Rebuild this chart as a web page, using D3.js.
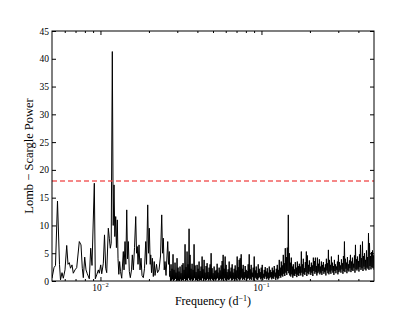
<!DOCTYPE html>
<html>
<head>
<meta charset="utf-8">
<script src="https://cdn.jsdelivr.net/npm/d3@7"></script>
<style>
  body { margin: 0; background: #fff; }
  text { font-family: "Liberation Serif", "DejaVu Serif", serif; fill: #000; }
</style>
</head>
<body>
<svg width="415" height="312"></svg>
<script>
// low-frequency part of the periodogram, read peak by peak: [frequency (1/d), power]
var lowFreq = [0.005, 0.005145, 0.005256, 0.005409, 0.005566, 0.005646, 0.005769, 0.005877, 0.006022, 0.006171,
    0.006286, 0.006404, 0.006515, 0.006656, 0.00678, 0.006948, 0.00712, 0.007389, 0.007571, 0.007713,
    0.007825, 0.007983, 0.008132, 0.008285, 0.008525, 0.008698, 0.008861, 0.009158, 0.00929, 0.009478,
    0.009697, 0.009836, 0.010036, 0.010181, 0.010416, 0.010596, 0.01078, 0.010935, 0.011188, 0.01135,
    0.011513, 0.011662, 0.011847, 0.012, 0.012139, 0.012279, 0.012437, 0.012563, 0.012726, 0.012854,
    0.013003, 0.013152, 0.013322, 0.013552, 0.013865, 0.014006, 0.014207, 0.014371, 0.01456, 0.014725,
    0.014894, 0.015109, 0.015327, 0.015593, 0.015772, 0.015998, 0.016275, 0.016557, 0.016747, 0.016941,
    0.017111, 0.017356, 0.017608, 0.017861, 0.018119, 0.018458, 0.018779, 0.019104, 0.019323, 0.019658,
    0.019884, 0.020113, 0.020374, 0.020522, 0.020756, 0.020995, 0.021297, 0.021574, 0.02182, 0.022295,
    0.022616, 0.023107, 0.023608, 0.024017, 0.024296, 0.024575, 0.024892, 0.025177, 0.02554, 0.026169,
    0.026472, 0.02678, 0.026896];
var lowPower = [0.5, 2.4, 2.8, 14.4, 3.0, 0.2, 1.5, 0.5, 2.0, 6.4,
    3.0, 3.3, 2.3, 2.9, 1.4, 2.0, 2.4, 7.1, 6.5, 2.3,
    0.6, 4.3, 2.0, 1.3, 0.4, 5.9, 2.8, 17.6, 0.4, 1.1,
    2.0, 1.4, 2.9, 1.3, 3.2, 8.3, 2.3, 1.5, 9.5, 7.7,
    5.9, 6.8, 41.3, 10.0, 17.3, 8.0, 11.6, 6.0, 11.0, 4.0,
    1.2, 3.5, 1.7, 0.5, 5.3, 2.0, 7.1, 3.0, 12.8, 4.0,
    7.1, 1.7, 0.6, 2.0, 4.7, 2.0, 6.0, 11.6, 5.0, 6.2,
    3.0, 6.5, 2.0, 4.1, 1.0, 0.6, 2.3, 7.1, 3.0, 13.7,
    5.0, 9.5, 3.0, 4.7, 1.5, 4.1, 0.8, 3.5, 1.0, 3.0,
    1.5, 2.0, 4.5, 11.9, 5.0, 7.7, 2.0, 3.5, 1.0, 7.1,
    3.0, 5.3, 0.8];

// high-frequency part: dense noise band, one local max and one local min per step,
// on an even log grid between denseFrom and denseTo
var denseFrom = 0.02704, denseTo = 0.5;
var densePeaks = [1.8, 3.0, 2.2, 4.8, 2.0, 3.3, 1.5, 4.1, 2.4, 1.7,
    2.6, 1.4, 2.9, 3.2, 2.0, 6.6, 2.5, 5.3, 3.0, 9.4,
    4.7, 2.2, 3.1, 2.0, 6.6, 2.8, 1.6, 2.9, 2.2, 3.5,
    1.8, 2.6, 4.4, 2.1, 3.8, 1.5, 2.7, 3.2, 1.6, 2.4,
    3.0, 5.0, 2.3, 1.4, 2.6, 1.8, 2.0, 3.1, 1.5, 2.4,
    1.9, 2.8, 3.6, 4.7, 2.2, 4.4, 2.9, 1.6, 2.1, 3.5,
    1.7, 2.4, 3.0, 1.5, 2.2, 2.8, 1.9, 4.4, 2.5, 3.8,
    4.1, 4.8, 2.2, 2.9, 1.6, 2.7, 2.0, 1.8, 3.0, 4.8,
    2.1, 2.9, 1.5, 2.4, 4.4, 1.9, 2.6, 1.4, 3.0, 2.2,
    1.6, 2.4, 2.9, 1.3, 2.0, 2.5, 1.7, 2.3, 1.5, 2.6,
    2.0, 1.6, 2.4, 1.9, 2.7, 1.5, 2.2, 2.9, 2.0, 3.8,
    2.4, 3.5, 2.8, 4.7, 3.2, 5.9, 4.3, 6.0, 11.9, 5.0,
    3.3, 4.2, 2.6, 3.0, 2.1, 3.4, 2.4, 3.5, 2.7, 3.1,
    2.6, 5.3, 3.0, 4.0, 2.3, 3.4, 5.3, 4.6, 2.9, 3.7,
    2.5, 3.3, 2.8, 4.2, 3.6, 4.2, 2.7, 4.2, 3.1, 3.9,
    2.6, 3.5, 2.9, 3.4, 2.4, 3.0, 4.0, 3.2, 5.6, 3.8,
    2.9, 4.4, 3.3, 2.7, 3.8, 3.0, 2.6, 3.5, 4.7, 3.4,
    2.8, 3.9, 3.2, 4.5, 7.1, 4.0, 3.3, 4.3, 3.0, 3.7,
    4.7, 3.5, 4.2, 3.1, 4.6, 6.5, 3.9, 4.4, 3.6, 4.8,
    6.5, 4.1, 7.1, 4.5, 5.0, 3.8, 5.5, 4.3, 8.6, 6.8,
    4.5, 5.2, 5.5, 4.6];
var denseTroughs = [0.0, 0.1, 0.3, 0.0, 0.2, 0.4, 0.0, 0.2, 0.1, 0.0,
    0.3, 0.0, 0.2, 0.1, 0.4, 0.0, 0.2, 0.1, 0.5, 0.2,
    0.1, 0.3, 0.0, 0.2, 0.5, 0.1, 0.2, 0.0, 0.4, 0.1,
    0.2, 0.1, 0.5, 0.0, 0.3, 0.1, 0.2, 0.4, 0.1, 0.3,
    0.1, 0.4, 0.2, 0.0, 0.3, 0.1, 0.3, 0.5, 0.1, 0.2,
    0.4, 0.1, 0.3, 0.0, 0.5, 0.2, 0.1, 0.3, 0.2, 0.3,
    0.5, 0.1, 0.2, 0.4, 0.0, 0.3, 0.2, 0.5, 0.3, 0.1,
    0.3, 0.6, 0.2, 0.4, 0.2, 0.6, 0.1, 0.4, 0.5, 0.2,
    0.4, 0.2, 0.7, 0.1, 0.4, 0.6, 0.3, 0.2, 0.5, 0.7,
    0.3, 0.5, 0.2, 0.6, 0.4, 0.8, 0.3, 0.5, 0.2, 0.5,
    0.7, 0.3, 0.5, 0.4, 0.8, 0.2, 0.6, 0.3, 0.5, 0.9,
    0.6, 1.0, 0.8, 1.3, 0.9, 1.5, 1.1, 1.8, 1.4, 1.0,
    0.8, 1.2, 0.6, 1.0, 0.9, 1.3, 0.7, 1.1, 0.9, 1.4,
    1.0, 1.5, 0.8, 1.3, 1.1, 1.6, 0.9, 1.4, 1.2, 1.7,
    1.1, 1.5, 0.9, 1.8, 1.3, 1.6, 1.0, 1.4, 1.7, 1.2,
    1.5, 1.1, 1.8, 1.3, 1.6, 1.0, 1.9, 1.4, 1.2, 1.7,
    1.3, 1.9, 1.5, 1.1, 1.8, 1.4, 2.0, 1.2, 1.6, 1.9,
    1.5, 2.1, 1.3, 1.8, 1.6, 2.2, 1.4, 1.9, 1.7, 2.3,
    1.6, 2.0, 1.8, 2.4, 1.5, 2.1, 1.9, 2.2, 1.7, 2.5,
    2.0, 2.3, 1.8, 2.6, 2.1, 1.9, 2.4, 2.2, 2.0, 2.7,
    2.1, 2.5, 2.3, 2.0];

var threshold = 18;
var yTicks = [0, 5, 10, 15, 20, 25, 30, 35, 40, 45];
var xMajor = [0.01, 0.1];
var xMajorExp = ["\u22122", "\u22121"];
var xMinor = [0.006, 0.007, 0.008, 0.009, 0.02, 0.03, 0.04, 0.05, 0.06, 0.07, 0.08, 0.09, 0.2, 0.3, 0.4];

var svg = d3.select("svg"),
    margin = {top: 31, right: 41, bottom: 31, left: 52},
    width = +svg.attr("width") - margin.left - margin.right,
    height = +svg.attr("height") - margin.top - margin.bottom,
    g = svg.append("g").attr("transform", "translate(" + margin.left + "," + margin.top + ")");

var x = d3.scaleLog().domain([0.005, 0.5]).range([0, width]);
var y = d3.scaleLinear().domain([0, 45]).range([height, 0]);

// build the series
var data = lowFreq.map(function(f, i) { return {f: f, p: lowPower[i]}; });
var n = densePeaks.length * 2;
densePeaks.forEach(function(p, i) {
    var j = 2 * i;
    data.push({f: denseFrom * Math.pow(denseTo / denseFrom, j / (n - 1)), p: p});
    data.push({f: denseFrom * Math.pow(denseTo / denseFrom, (j + 1) / (n - 1)), p: denseTroughs[i]});
});

var line = d3.line()
    .x(function(d) { return x(d.f); })
    .y(function(d) { return y(d.p); });

g.append("clipPath").attr("id", "clip")
  .append("rect").attr("width", width).attr("height", height);

g.append("path")
    .datum(data)
    .attr("clip-path", "url(#clip)")
    .attr("fill", "none")
    .attr("stroke", "#000")
    .attr("stroke-width", 1)
    .attr("stroke-linejoin", "miter")
    .attr("d", line);

// significance level
g.append("line")
    .attr("x1", 0).attr("x2", width)
    .attr("y1", y(threshold)).attr("y2", y(threshold))
    .attr("stroke", "#ee4444")
    .attr("stroke-opacity", 0.85)
    .attr("stroke-width", 1.3)
    .attr("stroke-dasharray", "5,3");

// inward ticks on all four sides
function noText(sel) { sel.select(".domain").remove(); sel.selectAll("text").remove(); sel.selectAll("line").attr("stroke", "#000"); }

g.append("g").attr("transform", "translate(0," + height + ")")
    .call(d3.axisBottom(x).tickValues(xMajor).tickSize(-4)).call(noText);
g.append("g").attr("transform", "translate(0," + height + ")")
    .call(d3.axisBottom(x).tickValues(xMinor).tickSize(-2)).call(noText);
g.append("g")
    .call(d3.axisTop(x).tickValues(xMajor).tickSize(-4)).call(noText);
g.append("g")
    .call(d3.axisTop(x).tickValues(xMinor).tickSize(-2)).call(noText);
g.append("g").attr("transform", "translate(" + width + ",0)")
    .call(d3.axisRight(y).tickValues(yTicks).tickSize(-4)).call(noText);

var yAxis = g.append("g")
    .call(d3.axisLeft(y).tickValues(yTicks).tickSize(-4).tickPadding(3));
yAxis.select(".domain").remove();
yAxis.selectAll("line").attr("stroke", "#000");
yAxis.selectAll("text")
    .style("font-family", "Liberation Serif, DejaVu Serif, serif")
    .style("font-size", "9.5px");

// x tick labels as 10^k
var xl = g.append("g").selectAll("text")
    .data(xMajor)
    .enter().append("text")
    .attr("x", function(d) { return x(d); })
    .attr("y", height + 9.5)
    .attr("text-anchor", "middle")
    .style("font-size", "9.5px");
xl.append("tspan").text("10");
xl.append("tspan").attr("dy", -4).style("font-size", "6.5px")
    .text(function(d, i) { return xMajorExp[i]; });

// frame
g.append("rect")
    .attr("width", width).attr("height", height)
    .attr("fill", "none").attr("stroke", "#000").attr("stroke-width", 1);

// axis titles
var xt = g.append("text")
    .attr("x", width / 2)
    .attr("y", height + 24)
    .attr("text-anchor", "middle")
    .style("font-size", "12px");
xt.append("tspan").text("Frequency (d");
xt.append("tspan").attr("dy", -4.5).style("font-size", "8px").text("\u22121");
xt.append("tspan").attr("dy", 4.5).text(")");

g.append("text")
    .attr("transform", "translate(" + (-19) + "," + (height / 2) + ") rotate(-90)")
    .attr("text-anchor", "middle")
    .style("font-size", "12.5px")
    .text("Lomb \u2212 Scargle Power");
</script>
</body>
</html>
